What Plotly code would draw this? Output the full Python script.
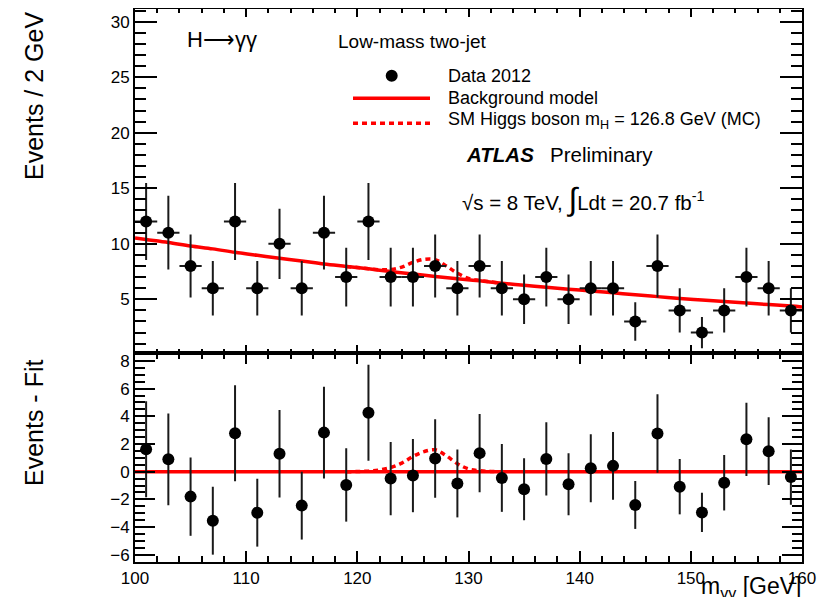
import numpy as np
import plotly.graph_objects as go

# ---------------- data ----------------
bin_centers = [101, 103, 105, 107, 109, 111, 113, 115, 117, 119,
               121, 123, 125, 127, 129, 131, 133, 135, 137, 139,
               141, 143, 145, 147, 149, 151, 153, 155, 157, 159]
data_counts = [12, 11, 8, 6, 12, 6, 10, 6, 11, 7,
               12, 7, 7, 8, 6, 8, 6, 5, 7, 5,
               6, 6, 3, 8, 4, 2, 4, 7, 6, 4]
bin_half_width = [1.0] * len(bin_centers)

bg_x = [100] + bin_centers + [160]
bg_y = [10.52, 10.38, 10.11, 9.80, 9.54, 9.23, 8.96, 8.70, 8.45, 8.18, 7.96,
        7.74, 7.50, 7.28, 7.05, 6.85, 6.66, 6.45, 6.27, 6.08, 5.91,
        5.75, 5.58, 5.40, 5.24, 5.08, 4.94, 4.80, 4.66, 4.52, 4.39, 4.31]

sig_x = [119, 120, 121, 122, 123, 124, 125, 126, 127, 128, 129, 130, 131, 132, 133]
sig_resid = [0.0, 0.01, 0.04, 0.12, 0.30, 0.62, 1.10, 1.45, 1.58, 1.15, 0.58, 0.20, 0.07, 0.02, 0.0]
sig_total = [7.96, 7.86, 7.76, 7.66, 7.68, 7.90, 8.32, 8.60, 8.57, 8.00, 7.35, 6.88, 6.70, 6.56, 6.43]

x_range = [100, 160]
y_top_range = [0.19, 31.14]
y_bot_range = [-6.52, 8.59]

# ---------------- derived ----------------
data_err = np.sqrt(np.array(data_counts, dtype=float))
bg_at_centers = np.array(bg_y[1:-1])
residuals = np.array(data_counts) - bg_at_centers

RED = "#ff0000"
INK = "#1a1a1a"
FONT = "Liberation Sans, Arial, Helvetica, sans-serif"

# page has an 8px body margin: figure is drawn from page (8, 8)
OFF = 8
PAGE_W, PAGE_H = 827, 597
# plot area in page pixels
L, R, T, B = 135, 802, 9, 562
def px(p):
    return (p - L) / (R - L)
def py(p):
    return (B - p) / (B - T)

split = py(352.7)

fig = go.Figure()

# ---------- top panel ----------
fig.add_trace(go.Scatter(x=bg_x, y=bg_y, mode="lines", line=dict(color=RED, width=3.5, shape="spline"),
                         xaxis="x2", yaxis="y2", hoverinfo="skip", showlegend=False))
fig.add_trace(go.Scatter(x=sig_x, y=sig_total, mode="lines",
                         line=dict(color=RED, width=3.5, dash="5px,4px", shape="spline"),
                         xaxis="x2", yaxis="y2", hoverinfo="skip", showlegend=False))
fig.add_trace(go.Scatter(x=bin_centers, y=data_counts, mode="markers",
                         marker=dict(color="black", size=12),
                         error_y=dict(type="data", array=data_err, color=INK, thickness=2, width=0),
                         error_x=dict(type="data", array=bin_half_width, color=INK, thickness=2, width=0),
                         xaxis="x2", yaxis="y2", showlegend=False))

# ---------- bottom panel ----------
fig.add_trace(go.Scatter(x=x_range, y=[0, 0], mode="lines", line=dict(color=RED, width=3.5),
                         xaxis="x", yaxis="y", hoverinfo="skip", showlegend=False))
fig.add_trace(go.Scatter(x=sig_x, y=sig_resid, mode="lines",
                         line=dict(color=RED, width=3.5, dash="5px,4px", shape="spline"),
                         xaxis="x", yaxis="y", hoverinfo="skip", showlegend=False))
fig.add_trace(go.Scatter(x=bin_centers, y=residuals, mode="markers",
                         marker=dict(color="black", size=12),
                         error_y=dict(type="data", array=data_err, color=INK, thickness=2, width=0),
                         xaxis="x", yaxis="y", showlegend=False))

axis_common = dict(showline=True, linecolor="black", linewidth=2, mirror="ticks",
                   ticks="inside", tickcolor="black", tickwidth=1.5,
                   showgrid=False, zeroline=False,
                   tickfont=dict(family=FONT, size=17, color="black"))

fig.update_layout(
    width=PAGE_W - OFF, height=PAGE_H - OFF,
    margin=dict(l=L - OFF, r=PAGE_W - R, t=T - OFF, b=PAGE_H - B, autoexpand=False),
    paper_bgcolor="white", plot_bgcolor="white",
    font=dict(family=FONT, color="black"),
    xaxis=dict(domain=[0, 1], anchor="y", range=x_range, tick0=100, dtick=10, ticklen=11,
               minor=dict(dtick=2, ticklen=6, ticks="inside", tickcolor="black", tickwidth=1.5),
               **axis_common),
    yaxis=dict(domain=[0, split], anchor="x", range=y_bot_range, tick0=0, dtick=2, ticklen=20,
               minor=dict(dtick=0.5, ticklen=10, ticks="inside", tickcolor="black", tickwidth=1.5),
               **axis_common),
    xaxis2=dict(domain=[0, 1], anchor="y2", matches="x", range=x_range, tick0=100, dtick=10, ticklen=8,
                showticklabels=False,
                minor=dict(dtick=2, ticklen=4, ticks="inside", tickcolor="black", tickwidth=1.5),
                **axis_common),
    yaxis2=dict(domain=[split, 1], anchor="x2", range=y_top_range, tick0=0, dtick=5, ticklen=22,
                minor=dict(dtick=1, ticklen=11, ticks="inside", tickcolor="black", tickwidth=1.5),
                **axis_common),
)

ann = []
def text(x, y, s, size, xanchor="left", yanchor="middle", angle=0):
    ann.append(dict(x=x, y=y, xref="paper", yref="paper", text=s, showarrow=False,
                    xanchor=xanchor, yanchor=yanchor, textangle=angle,
                    font=dict(family=FONT, size=size, color="black")))

text(px(34), py(96), "Events / 2 GeV", 25, xanchor="center", yanchor="middle", angle=-90)
text(px(34), py(423), "Events - Fit", 25, xanchor="center", yanchor="middle", angle=-90)
text(px(803), py(571), "m<sub>γγ</sub> [GeV]", 23, xanchor="right", yanchor="top")

text(px(185), py(40), "H⟶γγ", 22)
text(px(336), py(41), "Low-mass two-jet", 19)
text(px(446), py(76), "Data 2012", 18)
text(px(446), py(98), "Background model", 18)
text(px(446), py(120), "SM Higgs boson m<sub>H</sub> = 126.8 GeV (MC)", 18)
text(px(464), py(154), "<b><i>ATLAS</i></b>", 20.5)
text(px(548), py(154), "Preliminary", 20.5)
text(px(460), py(199), "√s = 8 TeV, <span style='font-size:32px'>∫</span>Ldt = 20.7 fb<sup>-1</sup>", 20.5)
fig.update_layout(annotations=ann)

# legend symbols
shapes = [
    dict(type="circle", xref="paper", yref="paper",
         x0=px(391.7 - 6), x1=px(391.7 + 6), y0=py(75.7 + 6), y1=py(75.7 - 6),
         fillcolor="black", line=dict(color="black", width=0)),
    dict(type="line", xref="paper", yref="paper", x0=px(353), x1=px(430), y0=py(98.3), y1=py(98.3),
         line=dict(color=RED, width=3.5)),
    dict(type="line", xref="paper", yref="paper", x0=px(353), x1=px(430), y0=py(123.3), y1=py(123.3),
         line=dict(color=RED, width=3.5, dash="5px,4px")),
]
fig.update_layout(shapes=shapes)

fig.write_html("out.html")
